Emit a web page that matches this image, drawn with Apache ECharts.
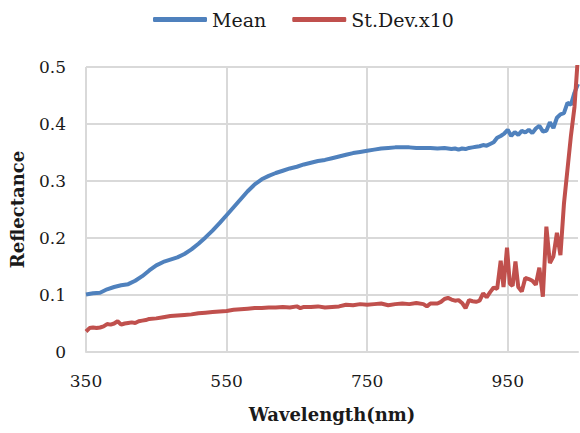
<!DOCTYPE html>
<html>
<head>
<meta charset="utf-8">
<script src="https://cdn.jsdelivr.net/npm/echarts@6/dist/echarts.min.js"></script>
<style>
  html, body { margin: 0; padding: 0; background: #fff; }
  #chart { width: 580px; height: 433px; }
</style>
</head>
<body>
<div id="chart"></div>
<script>
// Reflectance spectrum: mean and standard deviation (scaled x10)
const meanWavelength = [
  350, 360, 370, 380, 390, 400, 410, 420, 430, 440, 450, 460, 470, 480, 490,
  500, 510, 520, 530, 540, 550, 560, 570, 580, 590, 600, 610, 620, 630, 640,
  650, 660, 670, 680, 690, 700, 710, 720, 730, 740, 750, 760, 770, 780, 790,
  800, 810, 820, 830, 840, 850, 860, 870, 875, 880, 885, 890, 895, 900, 905,
  910, 915, 920, 925, 930, 935, 940, 945, 950, 955, 960, 965, 970, 975, 980,
  985, 990, 995, 1000, 1005, 1010, 1015, 1020, 1025, 1030, 1035, 1040, 1045, 1050
];
const meanValues = [
  0.101, 0.103, 0.104, 0.110, 0.114, 0.117, 0.119, 0.125, 0.133, 0.143, 0.152, 0.158, 0.162, 0.166, 0.172,
  0.180, 0.190, 0.201, 0.213, 0.226, 0.240, 0.254, 0.268, 0.282, 0.294, 0.303, 0.309, 0.314, 0.318, 0.322,
  0.325, 0.329, 0.332, 0.335, 0.337, 0.340, 0.343, 0.346, 0.349, 0.351, 0.353, 0.355, 0.357, 0.358, 0.359,
  0.359, 0.359, 0.358, 0.358, 0.358, 0.357, 0.358, 0.356, 0.357, 0.355, 0.357, 0.356, 0.358, 0.359, 0.360,
  0.361, 0.363, 0.362, 0.365, 0.368, 0.376, 0.379, 0.383, 0.390, 0.379, 0.386, 0.381, 0.388, 0.385, 0.390,
  0.384, 0.392, 0.397, 0.387, 0.388, 0.403, 0.393, 0.411, 0.417, 0.419, 0.437, 0.434, 0.455, 0.470
];

const sdWavelength = [
  350, 355, 360, 365, 370, 375, 380, 385, 390, 395, 400, 405, 410, 415, 420,
  425, 430, 435, 440, 450, 460, 470, 480, 490, 500, 510, 520, 530, 540, 550,
  560, 570, 580, 590, 600, 610, 620, 630, 640, 650, 655, 660, 670, 680, 690,
  700, 710, 720, 730, 740, 750, 760, 770, 780, 790, 800, 810, 820, 830, 835,
  840, 850, 855, 860, 865, 870, 875, 880, 885, 890, 895, 900, 905, 910, 915,
  920, 925, 930, 935, 940, 944, 949, 953, 957, 961, 965, 970, 975, 980, 985,
  990, 995, 1000, 1005, 1010, 1015, 1020, 1025, 1030, 1035, 1040, 1045, 1050
];
const sdValues = [
  0.036, 0.042, 0.043, 0.042, 0.043, 0.045, 0.049, 0.048, 0.050, 0.054, 0.048, 0.050, 0.051, 0.052, 0.051,
  0.054, 0.055, 0.056, 0.058, 0.059, 0.061, 0.063, 0.064, 0.065, 0.066, 0.068, 0.069, 0.070, 0.071, 0.072,
  0.074, 0.075, 0.076, 0.077, 0.077, 0.078, 0.078, 0.079, 0.078, 0.080, 0.077, 0.079, 0.079, 0.080, 0.078,
  0.079, 0.080, 0.083, 0.082, 0.084, 0.083, 0.084, 0.085, 0.082, 0.084, 0.085, 0.084, 0.086, 0.084, 0.080,
  0.085, 0.085, 0.088, 0.093, 0.095, 0.092, 0.090, 0.091, 0.086, 0.077, 0.091, 0.089, 0.088, 0.090, 0.103,
  0.096, 0.105, 0.113, 0.111, 0.160, 0.114, 0.183, 0.120, 0.116, 0.159, 0.114, 0.106, 0.130, 0.128, 0.125,
  0.118, 0.148, 0.097, 0.220, 0.156, 0.168, 0.209, 0.170, 0.260, 0.320, 0.380, 0.430, 0.520
];

const zip = (xs, ys) => xs.map((x, i) => [x, ys[i]]);

const FONT = 'DejaVu Serif';
const TEXT = '#1a1a1a';
const GRID = '#d9d9d9';

const chart = echarts.init(document.getElementById('chart'), null, { renderer: 'svg' });

chart.setOption({
  animation: false,
  legend: {
    top: 5,
    left: 148,
    itemWidth: 54,
    itemHeight: 5,
    itemGap: 26,
    icon: 'roundRect',
    textStyle: { fontFamily: FONT, fontSize: 19, color: TEXT },
    data: ['Mean', 'St.Dev.x10']
  },
  grid: { left: 86, right: 2, top: 67, bottom: 81 },
  xAxis: {
    type: 'value',
    min: 350,
    max: 1050,
    interval: 200,
    name: 'Wavelength(nm)',
    nameLocation: 'middle',
    nameGap: 53,
    nameTextStyle: { fontFamily: FONT, fontSize: 18, fontWeight: 'bold', color: TEXT },
    axisLine: { show: true, onZero: false, lineStyle: { color: GRID, width: 2 } },
    axisTick: { show: false },
    axisLabel: { margin: 20, fontFamily: FONT, fontSize: 17, color: TEXT, showMaxLabel: false },
    splitLine: { show: true, showMinLine: true, showMaxLine: false, lineStyle: { color: GRID, width: 2 } }
  },
  yAxis: {
    type: 'value',
    min: 0,
    max: 0.5,
    interval: 0.1,
    name: 'Reflectance',
    nameLocation: 'middle',
    nameGap: 60,
    nameTextStyle: { fontFamily: FONT, fontSize: 18, fontWeight: 'bold', color: TEXT },
    axisLine: { show: false },
    axisTick: { show: false },
    axisLabel: { margin: 20, fontFamily: FONT, fontSize: 17, color: TEXT },
    splitLine: { show: true, showMinLine: true, showMaxLine: true, lineStyle: { color: GRID, width: 2 } }
  },
  series: [
    {
      name: 'Mean',
      type: 'line',
      data: zip(meanWavelength, meanValues),
      showSymbol: false,
      clip: true,
      lineStyle: { color: '#4f81bd', width: 4 },
      itemStyle: { color: '#4f81bd' }
    },
    {
      name: 'St.Dev.x10',
      type: 'line',
      data: zip(sdWavelength, sdValues),
      showSymbol: false,
      clip: true,
      lineStyle: { color: '#c0504d', width: 4 },
      itemStyle: { color: '#c0504d' }
    }
  ]
});
</script>
</body>
</html>
